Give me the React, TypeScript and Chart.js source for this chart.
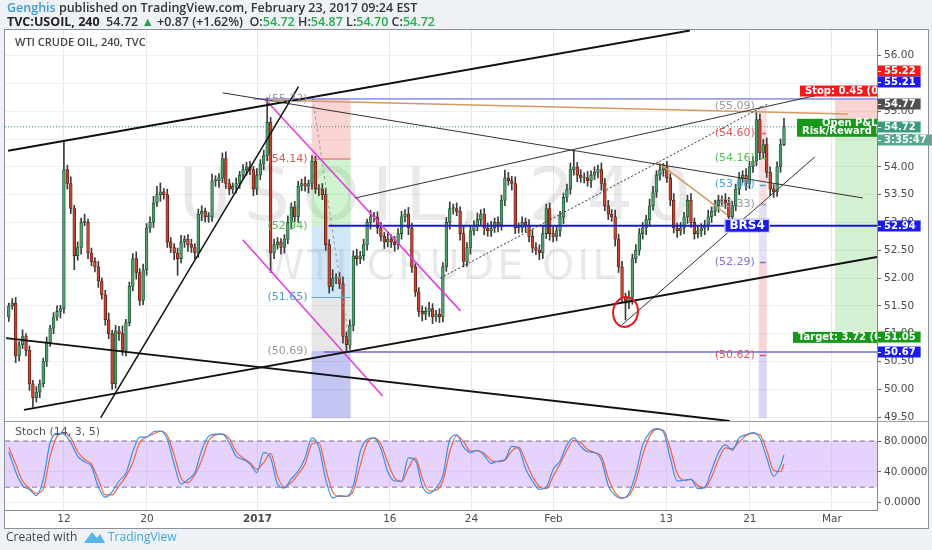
import React, { useEffect, useRef } from "react";
import { Chart, registerables } from "chart.js";

Chart.register(...registerables);

// ---------------- data (4-hour bars, index 0 = early Dec 2016) ----------------
const closes: number[] = [
  51.5, 51.55, 50.6, 50.8, 50.95, 50.7, 50.1, 49.85, 49.95, 50.1,
  50.5, 50.85, 51.1, 51.3, 51.4, 51.45, 53.95, 53.7, 53.25, 52.4,
  52.55, 53.0, 53.0, 52.45, 52.3, 52.2, 51.95, 51.7, 51.25, 51.0,
  50.1, 51.05, 51.0, 50.7, 51.2, 51.85, 52.35, 52.1, 51.6, 52.15,
  52.9, 53.0, 53.35, 53.5, 53.55, 53.5, 52.65, 52.55, 52.45, 52.35,
  52.65, 52.7, 52.6, 52.55, 52.45, 53.15, 53.2, 53.1, 53.1, 53.75,
  53.75, 53.8, 54.15, 53.7, 53.6, 53.65, 53.7, 53.85, 53.95, 54.0,
  53.95, 53.6, 53.85, 54.05, 54.2, 54.8, 52.45, 52.6, 52.65, 52.55,
  52.7, 53.0, 53.28, 53.1, 53.65, 53.7, 53.65, 53.7, 54.1, 53.6,
  53.6, 53.5, 52.6, 51.85, 52.0, 52.0, 51.9, 50.95, 50.8, 51.15,
  52.4, 52.35, 52.4, 52.6, 53.0, 53.1, 53.1, 52.9, 52.75, 52.65,
  52.7, 52.65, 52.6, 52.8, 53.1, 53.15, 52.9, 52.2, 51.75, 51.4,
  51.35, 51.4, 51.45, 51.3, 51.35, 51.3, 52.2, 53.0, 53.25, 53.25,
  53.2, 52.8, 52.3, 52.55, 52.85, 52.95, 53.05, 53.15, 52.9, 52.85,
  52.9, 53.0, 52.95, 53.4, 53.8, 53.75, 53.7, 52.9, 52.9, 53.0,
  52.95, 52.75, 52.55, 52.5, 52.45, 52.8, 53.25, 52.8, 52.75, 52.85,
  53.1, 53.45, 53.6, 53.95, 54.0, 53.85, 53.8, 53.8, 53.75, 53.85,
  53.9, 53.95, 53.7, 53.3, 53.15, 53.1, 52.7, 52.2, 51.65, 51.55,
  51.65, 52.35, 52.5, 52.8, 52.9, 53.05, 53.3, 53.55, 53.85, 53.95,
  54.0, 53.8, 53.4, 52.9, 52.85, 52.9, 53.1, 53.4, 53.0, 52.8,
  52.85, 52.9, 52.95, 53.1, 53.2, 53.3, 53.4, 53.4, 53.35, 53.1,
  53.3, 53.6, 53.8, 53.85, 53.7, 54.0, 54.1, 54.85, 54.25, 54.4,
  53.9, 53.6, 53.55, 54.0, 54.4, 54.72,
];
const firstOpen = 51.3;
// wick extensions beyond the body, in cents
const wickHiCents: number[] = [
  5, 8, 10, 6, 12, 5, 8, 6, 10, 7,
  6, 9, 5, 8, 10, 6, 50, 8, 12, 6,
  10, 8, 15, 6, 9, 7, 10, 5, 8, 12,
  6, 10, 8, 14, 6, 8, 9, 12, 7, 10,
  8, 10, 12, 15, 16, 6, 10, 8, 7, 9,
  12, 6, 8, 10, 7, 9, 10, 6, 8, 12,
  9, 8, 10, 12, 8, 6, 10, 7, 9, 8,
  10, 6, 12, 8, 10, 44, 9, 10, 8, 6,
  8, 12, 7, 10, 9, 8, 12, 6, 10, 9,
  8, 10, 12, 9, 15, 8, 10, 12, 8, 10,
  9, 12, 8, 10, 6, 12, 8, 9, 10, 7,
  12, 8, 10, 9, 10, 8, 12, 9, 6, 8,
  10, 8, 12, 9, 7, 10, 8, 9, 12, 8,
  10, 8, 14, 9, 10, 8, 12, 8, 10, 9,
  12, 8, 10, 9, 14, 10, 8, 12, 9, 10,
  8, 10, 12, 9, 10, 15, 8, 10, 12, 9,
  10, 8, 9, 12, 30, 8, 10, 9, 12, 8,
  10, 8, 12, 9, 10, 8, 12, 9, 10, 8,
  12, 8, 10, 9, 10, 8, 12, 10, 8, 9,
  6, 10, 8, 12, 9, 10, 8, 9, 12, 8,
  10, 8, 9, 12, 8, 10, 9, 8, 12, 10,
  8, 9, 10, 8, 12, 10, 8, 15, 10, 9,
  12, 10, 8, 9, 10, 15,
];
const wickLoCents: number[] = [
  8, 6, 12, 9, 7, 10, 12, 17, 8, 10,
  6, 9, 8, 10, 6, 12, 8, 10, 9, 25,
  8, 12, 6, 10, 8, 9, 12, 8, 10, 9,
  10, 8, 12, 9, 10, 6, 8, 12, 9, 8,
  10, 8, 9, 6, 12, 8, 10, 9, 12, 30,
  8, 10, 12, 9, 10, 8, 12, 9, 10, 8,
  10, 12, 8, 9, 10, 8, 12, 9, 8, 10,
  9, 12, 10, 8, 10, 9, 35, 10, 8, 12,
  10, 8, 12, 9, 10, 8, 9, 12, 10, 8,
  12, 9, 10, 12, 8, 10, 9, 12, 11, 8,
  10, 12, 9, 8, 10, 12, 9, 10, 8, 12,
  9, 10, 12, 8, 10, 9, 12, 10, 8, 9,
  12, 10, 9, 12, 8, 10, 9, 8, 12, 10,
  8, 12, 10, 9, 12, 8, 10, 9, 12, 10,
  10, 8, 12, 9, 10, 8, 12, 10, 9, 8,
  12, 10, 9, 8, 12, 10, 9, 12, 10, 8,
  10, 12, 8, 9, 10, 12, 8, 9, 10, 12,
  8, 10, 12, 9, 10, 8, 12, 10, 9, 30,
  10, 12, 8, 9, 10, 12, 9, 8, 10, 9,
  12, 8, 10, 9, 12, 8, 10, 12, 9, 10,
  8, 10, 12, 9, 10, 8, 12, 9, 10, 8,
  12, 9, 10, 8, 12, 9, 10, 8, 12, 10,
  9, 12, 10, 8, 10, 2,
];

// Stochastic (14, 3, 5), one value every 2 bars (last one = last bar)
const stochStep = 2;
const stochK: number[] = [
  66, 40, 22, 17, 9, 30, 78, 90, 89, 78,
  60, 53, 47, 20, 7, 14, 28, 38, 66, 85,
  85, 92, 93, 82, 50, 24, 30, 39, 68, 86,
  89, 89, 78, 60, 56, 50, 39, 65, 58, 24,
  19, 31, 41, 58, 84, 72, 30, 6, 9, 8,
  22, 66, 82, 84, 70, 40, 28, 28, 58, 55,
  22, 12, 19, 35, 82, 88, 72, 65, 68, 61,
  51, 54, 56, 73, 70, 44, 28, 17, 20, 43,
  54, 75, 84, 73, 66, 65, 55, 22, 9, 5.5,
  12, 38, 75, 91, 96, 92, 58, 28, 29, 30,
  18, 20, 42, 65, 75, 68, 84, 88, 91, 84,
  58, 34, 48, 62,
];
const stochD: number[] = [
  72, 50, 28, 19, 12, 18, 60, 86, 91, 84,
  66, 56, 50, 30, 10, 10, 22, 34, 52, 78,
  85, 89, 93, 87, 62, 32, 26, 36, 55, 80,
  88, 89, 83, 66, 58, 52, 43, 52, 64, 34,
  20, 26, 37, 50, 76, 78, 44, 14, 8, 8,
  15, 48, 77, 84, 76, 52, 32, 27, 45, 58,
  32, 15, 16, 28, 66, 87, 79, 67, 67, 64,
  55, 53, 55, 67, 72, 54, 34, 21, 18, 34,
  50, 68, 81, 78, 69, 65, 60, 32, 13, 6,
  9, 28, 62, 86, 95, 94, 70, 38, 29, 30,
  22, 19, 33, 56, 71, 70, 79, 87, 90, 88,
  68, 42, 40, 50,
];
const stochBand = [80, 20];

// axes
const xRange = [-1.1, 252];
const priceRange = [49.43, 56.46];
const stochRange = [-9.7, 106];
const priceTicks = [49.5, 50, 50.5, 51, 51.5, 52, 52.5, 53, 53.5, 54, 54.5, 55, 55.5, 56];
const stochTicks = [0, 40, 80];
const xTickBars = [16.0, 40.1, 72.2, 110.6, 134.3, 158.1, 190.8, 215.1, 238.9];
const xTickLabels = ["12", "20", "2017", "16", "24", "Feb", "13", "21", "Mar"];

// drawings: endpoints as [bar, price]
type Pt = [number, number];
const thickLines: Pt[][] = [
  [[-0.2, 54.29], [197.7, 56.45]],
  [[-0.8, 50.92], [209.3, 49.43]],
  [[4.4, 49.63], [252, 52.38]],
];
const steepLine: Pt[] = [[26.7, 49.49], [84.1, 55.44]];
const thinLines: Pt[][] = [
  [[62.1, 55.33], [247.9, 53.44]],
  [[100.6, 53.44], [234.8, 55.29]],
  [[178.0, 51.16], [234.0, 54.18]],
];
const dottedLine: Pt[] = [[125.3, 52.0], [220.3, 55.13]];
const magentaLines: Pt[][] = [
  [[74.6, 55.2], [131.1, 51.41]],
  [[67.9, 52.69], [108.5, 49.88]],
];
const orangeLines: Pt[][] = [
  [[74.6, 55.2], [243.5, 54.95]],
  [[188.2, 54.09], [208.5, 53.14]],
];
const blueLevels: { price: number; fromBar: number }[] = [
  { price: 55.22, fromBar: 71.0 },
  { price: 52.94, fromBar: 92.8 },
  { price: 50.67, fromBar: 91.4 },
];
const lastPrice = 54.72;

const leftFibBars = [87.9, 99.2];
const leftFibZones = [55.22, 54.14, 52.94, 51.65, 50.69, 49.48];
const leftFibLabels = [55.22, 54.14, 52.94, 51.65, 50.69];
const leftFibDash: Pt[] = [[88.2, 55.22], [99.2, 50.69]];

const rightFibBars = [217.7, 220.0];
const rightFibZones = [55.09, 53.33, 52.29, 50.62, 49.48];
const rightFibLabels = [55.09, 54.6, 54.16, 53.68, 53.33, 52.29, 50.62];

const positionTool = { fromBar: 239.8, stop: 55.21, entry: 54.72, target: 51.05 };
const brsLabel = { bar: 214.3, price: 52.94, text: "BRS4" };
const circleMark = { bar: 179.0, price: 51.39, rBars: 3.6, rPrice: 0.27 };

const axisTags = [
  { value: 55.22, text: "55.22", bg: "#f21b1b" },
  { value: 55.21, text: "55.21", bg: "#1b1bef" },
  { value: 54.77, text: "54.77", bg: "#4f4f4f" },
  { value: 54.72, text: "54.72", bg: "#3a9b7e" },
  { value: 54.72, text: "3:35:47", bg: "#55a88c" },
  { value: 52.94, text: "52.94", bg: "#1b1bef" },
  { value: 51.05, text: "51.05", bg: "#16991b" },
  { value: 50.67, text: "50.67", bg: "#1b1bef" },
];
const axisTagShift = [-28, -18, -20, 0, 13, 0, 6, 0];

const FONT = "DejaVu Sans";
const PAGE_BG = "#eef1f5";

function lineDs(seg: Pt[], color: string, width: number, dash: number[] = [], order = 1) {
  return {
    type: "line",
    data: seg.map(([x, y]) => ({ x, y })),
    borderColor: color,
    borderWidth: width,
    borderDash: dash,
    pointRadius: 0,
    fill: false,
    tension: 0,
    xAxisID: "x",
    yAxisID: "y",
    order,
  };
}

function runs(ctx: CanvasRenderingContext2D, x: number, y: number, parts: [string, string, string][]) {
  let cx = x;
  for (const [t, color, font] of parts) {
    ctx.font = font;
    ctx.fillStyle = color;
    ctx.fillText(t, cx, y);
    cx += ctx.measureText(t).width;
  }
}

const decoPlugin = {
  id: "deco",
  beforeDraw(chart: any) {
    const { ctx, chartArea: ca, scales } = chart;
    ctx.save();
    ctx.fillStyle = PAGE_BG;
    ctx.fillRect(0, 0, chart.width, chart.height);
    ctx.fillStyle = "#ffffff";
    ctx.fillRect(ca.left - 1, ca.top - 1, scales.y.right - ca.left + 1, scales.x.bottom - ca.top + 1);
    ctx.restore();
  },
  beforeDatasetsDraw(chart: any) {
    const { ctx, chartArea: ca, scales } = chart;
    const X = (b: number) => scales.x.getPixelForValue(b);
    const Y = (p: number) => scales.y.getPixelForValue(p);
    ctx.save();
    ctx.beginPath();
    ctx.rect(ca.left, scales.y.top, ca.right - ca.left, scales.y.bottom - scales.y.top);
    ctx.clip();

    // watermark
    const cxm = (ca.left + ca.right) / 2;
    ctx.fillStyle = "rgba(0,0,0,0.085)";
    ctx.textBaseline = "alphabetic";
    (ctx as any).letterSpacing = "12px";
    ctx.font = `73px ${FONT}`;
    let w = ctx.measureText("USOIL, 240").width;
    ctx.fillText("USOIL, 240", cxm - w / 2, scales.y.top + 190);
    (ctx as any).letterSpacing = "3px";
    ctx.font = `41px ${FONT}`;
    w = ctx.measureText("WTI CRUDE OIL").width;
    ctx.fillText("WTI CRUDE OIL", cxm - w / 2, scales.y.top + 249);
    (ctx as any).letterSpacing = "0px";

    // left fib column
    const lf = ["rgba(242,140,140,0.38)", "rgba(120,220,120,0.35)", "rgba(120,185,235,0.35)", "rgba(175,175,175,0.3)", "rgba(110,110,225,0.4)"];
    const lx0 = X(leftFibBars[0]);
    const lx1 = X(leftFibBars[1]);
    for (let k = 0; k < leftFibZones.length - 1; k++) {
      ctx.fillStyle = lf[k];
      const a = Y(leftFibZones[k]);
      const b = Y(leftFibZones[k + 1]);
      ctx.fillRect(lx0, a, lx1 - lx0, b - a);
    }
    // right fib column
    const rf = ["rgba(240,160,170,0.35)", "rgba(190,175,240,0.4)", "rgba(240,160,170,0.45)", "rgba(170,160,240,0.45)"];
    const rx0 = X(rightFibBars[0]);
    const rx1 = X(rightFibBars[1]);
    for (let k = 0; k < rightFibZones.length - 1; k++) {
      ctx.fillStyle = rf[k];
      const a = Y(rightFibZones[k]);
      const b = Y(rightFibZones[k + 1]);
      ctx.fillRect(rx0, a, rx1 - rx0, b - a);
    }
    // position tool
    const px0 = X(positionTool.fromBar);
    ctx.fillStyle = "rgba(242,150,150,0.42)";
    ctx.fillRect(px0, Y(positionTool.stop), ca.right - px0, Y(positionTool.entry) - Y(positionTool.stop));
    ctx.fillStyle = "rgba(140,215,140,0.38)";
    ctx.fillRect(px0, Y(positionTool.entry), ca.right - px0, Y(positionTool.target) - Y(positionTool.entry));
    ctx.restore();
  },
  afterDatasetsDraw(chart: any) {
    const { ctx, chartArea: ca, scales } = chart;
    const X = (b: number) => scales.x.getPixelForValue(b);
    const Y = (p: number) => scales.y.getPixelForValue(p);
    ctx.save();
    ctx.beginPath();
    ctx.rect(ca.left, scales.y.top, ca.right - ca.left, scales.y.bottom - scales.y.top);
    ctx.clip();
    ctx.textBaseline = "middle";

    // left fib labels
    const lcol = ["#9a9a9a", "#e05555", "#55c255", "#4a9fd8", "#9a9a9a"];
    ctx.font = `11px ${FONT}`;
    ctx.textAlign = "right";
    leftFibLabels.forEach((v, k) => {
      ctx.fillStyle = lcol[k];
      ctx.fillText(`(${v.toFixed(2)})`, X(leftFibBars[0]) - 4, Y(v));
    });
    // right fib labels
    const rcol = ["#9a9a9a", "#e05555", "#55c255", "#4a9fd8", "#9a9a9a", "#7b73d6", "#e05555"];
    rightFibLabels.forEach((v, k) => {
      ctx.fillStyle = rcol[k];
      ctx.fillText(`(${v.toFixed(2)})`, X(rightFibBars[0]) - 4, Y(v));
      ctx.strokeStyle = rcol[k];
      ctx.lineWidth = 1.5;
      ctx.beginPath();
      ctx.moveTo(X(rightFibBars[0]) + 1, Math.round(Y(v)) + 0.5);
      ctx.lineTo(X(rightFibBars[0]) + 7, Math.round(Y(v)) + 0.5);
      ctx.stroke();
    });
    ctx.textAlign = "left";

    // red circle
    ctx.strokeStyle = "#e8141e";
    ctx.lineWidth = 2;
    ctx.beginPath();
    const cx = X(circleMark.bar);
    const cy = Y(circleMark.price);
    const rx = X(circleMark.bar + circleMark.rBars) - cx;
    const ry = Y(circleMark.price - circleMark.rPrice) - cy;
    ctx.ellipse(cx, cy, rx, ry, 0.15, 0, Math.PI * 2);
    ctx.stroke();

    // BRS4 label
    ctx.font = `bold 12px ${FONT}`;
    const bw = ctx.measureText(brsLabel.text).width + 10;
    const bx = X(brsLabel.bar) - bw / 2;
    const by = Y(brsLabel.price);
    ctx.fillStyle = "#1b1bef";
    ctx.fillRect(bx, by - 7, bw, 14);
    ctx.strokeStyle = "#ffffff";
    ctx.lineWidth = 1;
    ctx.strokeRect(bx + 0.5, by - 6.5, bw - 1, 13);
    ctx.fillStyle = "#ffffff";
    ctx.fillText(brsLabel.text, bx + 5, by + 0.5);

    // position tool labels
    const tx = X(positionTool.fromBar);
    ctx.font = `bold 10px ${FONT}`;
    const ys = Y(positionTool.stop);
    ctx.fillStyle = "#f21b1b";
    ctx.fillRect(tx - 35, ys - 14, 130, 11);
    ctx.fillStyle = "#fff";
    ctx.fillText("Stop: 0.45 (0.82%)", tx - 30, ys - 8.5);
    const ye = Y(positionTool.entry);
    ctx.fillStyle = "#16991b";
    ctx.fillRect(tx - 38, ye - 8, 140, 18);
    ctx.fillStyle = "#fff";
    ctx.fillText("Open P&L:", tx - 13, ye - 3);
    ctx.fillText("Risk/Reward Ratio: 8.16", tx - 33, ye + 5);
    const yt = Y(positionTool.target);
    ctx.fillStyle = "#16991b";
    ctx.fillRect(tx - 42, yt + 1, 140, 11);
    ctx.fillStyle = "#fff";
    ctx.fillText("Target: 3.72 (6.80%)", tx - 37, yt + 6.5);
    ctx.restore();

    // stoch title + symbol title
    ctx.save();
    ctx.textBaseline = "middle";
    ctx.fillStyle = "#555";
    ctx.font = `11px ${FONT}`;
    ctx.fillText("Stoch (14, 3, 5)", ca.left + 10, scales.ys.top + 11);
    ctx.fillStyle = "#444";
    ctx.font = `600 11px "Open Sans"`;
    ctx.fillText("WTI CRUDE OIL, 240, TVC", ca.left + 10, scales.y.top + 13);
    ctx.restore();
  },
  afterDraw(chart: any) {
    const { ctx, chartArea: ca, scales } = chart;
    const sy = scales.y;
    ctx.save();
    // pane separator
    ctx.strokeStyle = "#9aa0a8";
    ctx.lineWidth = 1;
    ctx.beginPath();
    ctx.moveTo(ca.left, Math.round(sy.bottom) + 0.5);
    ctx.lineTo(sy.right, Math.round(sy.bottom) + 0.5);
    ctx.stroke();

    // axis tags
    ctx.textBaseline = "middle";
    ctx.font = `bold 10px ${FONT}`;
    axisTags.forEach((t, k) => {
      const yc = Math.round(sy.getPixelForValue(t.value) + axisTagShift[k]);
      const w = ctx.measureText(t.text).width + 11;
      ctx.fillStyle = t.bg;
      ctx.fillRect(sy.left + 1, yc - 5.5, w, 11);
      ctx.strokeStyle = "#ffffff";
      ctx.beginPath();
      ctx.moveTo(sy.left + 1, yc + 0.5);
      ctx.lineTo(sy.left + 4, yc + 0.5);
      ctx.stroke();
      ctx.fillStyle = "#ffffff";
      ctx.fillText(t.text, sy.left + 7, yc + 0.5);
    });

    // frame
    ctx.strokeStyle = "#8a9099";
    ctx.strokeRect(ca.left - 0.5, ca.top - 0.5, sy.right - ca.left + 1, scales.x.bottom - ca.top + 1);

    // header
    ctx.textBaseline = "middle";
    const f1 = `600 12.5px "Open Sans"`;
    runs(ctx, 7, 8, [
      ["Genghis", "#3c9ad6", f1],
      [" published on TradingView.com, February 23, 2017 09:24 EST", "#333333", f1],
    ]);
    const fb = `bold 12.5px "Open Sans"`;
    const green = "#2fa84f";
    runs(ctx, 7, 22, [
      ["TVC:USOIL, 240", "#222222", fb],
      ["  54.72 ", "#333333", f1],
      ["\u25B2", "#25a244", f1],
      [" +0.87 (+1.62%)  ", "#333333", f1],
      ["O:", "#333333", f1],
      ["54.72", green, f1],
      [" H:", "#333333", f1],
      ["54.87", green, f1],
      [" L:", "#333333", f1],
      ["54.70", green, f1],
      [" C:", "#333333", f1],
      ["54.72", green, f1],
    ]);

    // footer
    ctx.font = `12px "Open Sans"`;
    ctx.fillStyle = "#444";
    ctx.fillText("Created with", 6, 538);
    // logo
    ctx.fillStyle = "#56b6e6";
    ctx.beginPath();
    ctx.moveTo(84, 543);
    ctx.lineTo(92, 532);
    ctx.lineTo(97, 538);
    ctx.lineTo(100, 534);
    ctx.lineTo(105, 543);
    ctx.closePath();
    ctx.fill();
    ctx.fillStyle = "#3aa8dc";
    ctx.fillText("TradingView", 108, 538);
    ctx.restore();
  },
};

export default function App() {
  const ref = useRef<HTMLCanvasElement>(null);
  useEffect(() => {
    document.body.style.margin = "0";
    const canvas = ref.current;
    if (!canvas) return;
    const opens = closes.map((c, i) => (i === 0 ? firstOpen : closes[i - 1]));
    const highs = closes.map((c, i) => Math.max(opens[i], c) + wickHiCents[i] / 100);
    const lows = closes.map((c, i) => Math.min(opens[i], c) - wickLoCents[i] / 100);
    const up = (i: number) => closes[i] >= opens[i];
    const last = closes.length - 1;
    const stochPts = (arr: number[]) => arr.map((v, k) => ({ x: Math.min(k * stochStep, last), y: v }));

    const datasets: any[] = [
      ...thickLines.map((s) => lineDs(s, "#111111", 2)),
      lineDs(steepLine, "#111111", 1.5),
      ...thinLines.map((s) => lineDs(s, "#333333", 1)),
      lineDs(dottedLine, "#333333", 1, [2, 2]),
      ...magentaLines.map((s) => lineDs(s, "#e23be2", 1.5)),
      ...orangeLines.map((s) => lineDs(s, "#d39a63", 1.5)),
      lineDs([[blueLevels[0].fromBar, blueLevels[0].price], [xRange[1], blueLevels[0].price]], "#5050dd", 1),
      lineDs([[blueLevels[1].fromBar, blueLevels[1].price], [xRange[1], blueLevels[1].price]], "#1a1ad6", 2),
      lineDs([[blueLevels[2].fromBar, blueLevels[2].price], [xRange[1], blueLevels[2].price]], "#6767dc", 1.5),
      lineDs([[leftFibBars[0], leftFibZones[1]], [leftFibBars[1], leftFibZones[1]]], "#e06060", 1),
      lineDs([[leftFibBars[0], leftFibZones[3]], [leftFibBars[1], leftFibZones[3]]], "#60a8e0", 1),
      lineDs(leftFibDash, "#9a9a9a", 1, [3, 3]),
      lineDs([[xRange[0], lastPrice], [xRange[1], lastPrice]], "#2e8b7a", 1, [1, 2], 3),
      {
        type: "bar",
        data: closes.map((c, i) => ({ x: i, y: [lows[i], highs[i]] })),
        backgroundColor: "#3b3b3b",
        barThickness: 1,
        grouped: false,
        order: 6,
        xAxisID: "x",
        yAxisID: "y",
      },
      {
        type: "bar",
        data: closes.map((c, i) => ({ x: i, y: [opens[i], c] })),
        backgroundColor: (ctx: any) => (up(ctx.dataIndex) ? "#4f9e6f" : "#c9452f"),
        borderColor: (ctx: any) => (up(ctx.dataIndex) ? "#1d5532" : "#5e1a10"),
        borderWidth: 0.8,
        borderSkipped: false,
        barThickness: 2.8,
        minBarLength: 1,
        grouped: false,
        order: 5,
        xAxisID: "x",
        yAxisID: "y",
      },
      {
        type: "line",
        data: [{ x: xRange[0], y: stochBand[0] }, { x: xRange[1], y: stochBand[0] }],
        borderColor: "#7d6f8c",
        borderWidth: 1,
        borderDash: [5, 4],
        pointRadius: 0,
        fill: "+1",
        backgroundColor: "rgba(196,150,250,0.42)",
        xAxisID: "x",
        yAxisID: "ys",
        order: 9,
      },
      {
        type: "line",
        data: [{ x: xRange[0], y: stochBand[1] }, { x: xRange[1], y: stochBand[1] }],
        borderColor: "#7d6f8c",
        borderWidth: 1,
        borderDash: [5, 4],
        pointRadius: 0,
        fill: false,
        xAxisID: "x",
        yAxisID: "ys",
        order: 9,
      },
      {
        type: "line",
        data: stochPts(stochD),
        borderColor: "#f0643c",
        borderWidth: 1.2,
        pointRadius: 0,
        fill: false,
        cubicInterpolationMode: "monotone",
        xAxisID: "x",
        yAxisID: "ys",
        order: 2,
      },
      {
        type: "line",
        data: stochPts(stochK),
        borderColor: "#3a8ee6",
        borderWidth: 1.2,
        pointRadius: 0,
        fill: false,
        cubicInterpolationMode: "monotone",
        xAxisID: "x",
        yAxisID: "ys",
        order: 1,
      },
    ];

    const tickFont = { family: FONT, size: 10.5 };
    const chart = new Chart(canvas, {
      type: "bar",
      data: { datasets },
      plugins: [decoPlugin],
      options: {
        responsive: false,
        animation: false,
        events: [],
        layout: { padding: { left: 5, top: 30, right: 4, bottom: 22 } },
        plugins: { legend: { display: false }, tooltip: { enabled: false } },
        scales: {
          x: {
            type: "linear",
            min: xRange[0],
            max: xRange[1],
            offset: false,
            afterBuildTicks: (s: any) => {
              s.ticks = xTickBars.map((v) => ({ value: v }));
            },
            afterFit: (s: any) => {
              s.height = 18;
            },
            ticks: {
              autoSkip: false,
              maxRotation: 0,
              padding: 3,
              color: "#4a4a4a",
              font: (c: any) => ({ family: FONT, size: 10.5, weight: xTickLabels[c.index] === "2017" ? "bold" : "normal" }),
              callback: (_v: any, i: number) => xTickLabels[i],
            },
            grid: { color: "#e8e8e8", drawTicks: false, offset: false },
            border: { color: "#80868f" },
          },
          y: {
            type: "linear",
            position: "right",
            stack: "pane",
            stackWeight: 391,
            min: priceRange[0],
            max: priceRange[1],
            afterBuildTicks: (s: any) => {
              s.ticks = priceTicks.map((v) => ({ value: v }));
            },
            afterFit: (s: any) => {
              s.width = 51;
            },
            ticks: { color: "#4a4a4a", font: tickFont, padding: 3, callback: (v: any) => Number(v).toFixed(2) },
            grid: { color: "#efefef", tickLength: 4, tickColor: "#666" },
            border: { color: "#80868f" },
          },
          ys: {
            type: "linear",
            position: "right",
            stack: "pane",
            stackWeight: 89,
            min: stochRange[0],
            max: stochRange[1],
            afterBuildTicks: (s: any) => {
              s.ticks = stochTicks.map((v) => ({ value: v }));
            },
            afterFit: (s: any) => {
              s.width = 51;
            },
            ticks: { color: "#4a4a4a", font: tickFont, padding: 3, callback: (v: any) => Number(v).toFixed(4) },
            grid: { color: "#efefef", tickLength: 4, tickColor: "#666" },
            border: { color: "#80868f" },
          },
        },
      } as any,
    });
    return () => chart.destroy();
  }, []);
  return (
    <div style={{ width: 932, height: 550 }}>
      <canvas ref={ref} width={932} height={550} style={{ display: "block" }} />
    </div>
  );
}
